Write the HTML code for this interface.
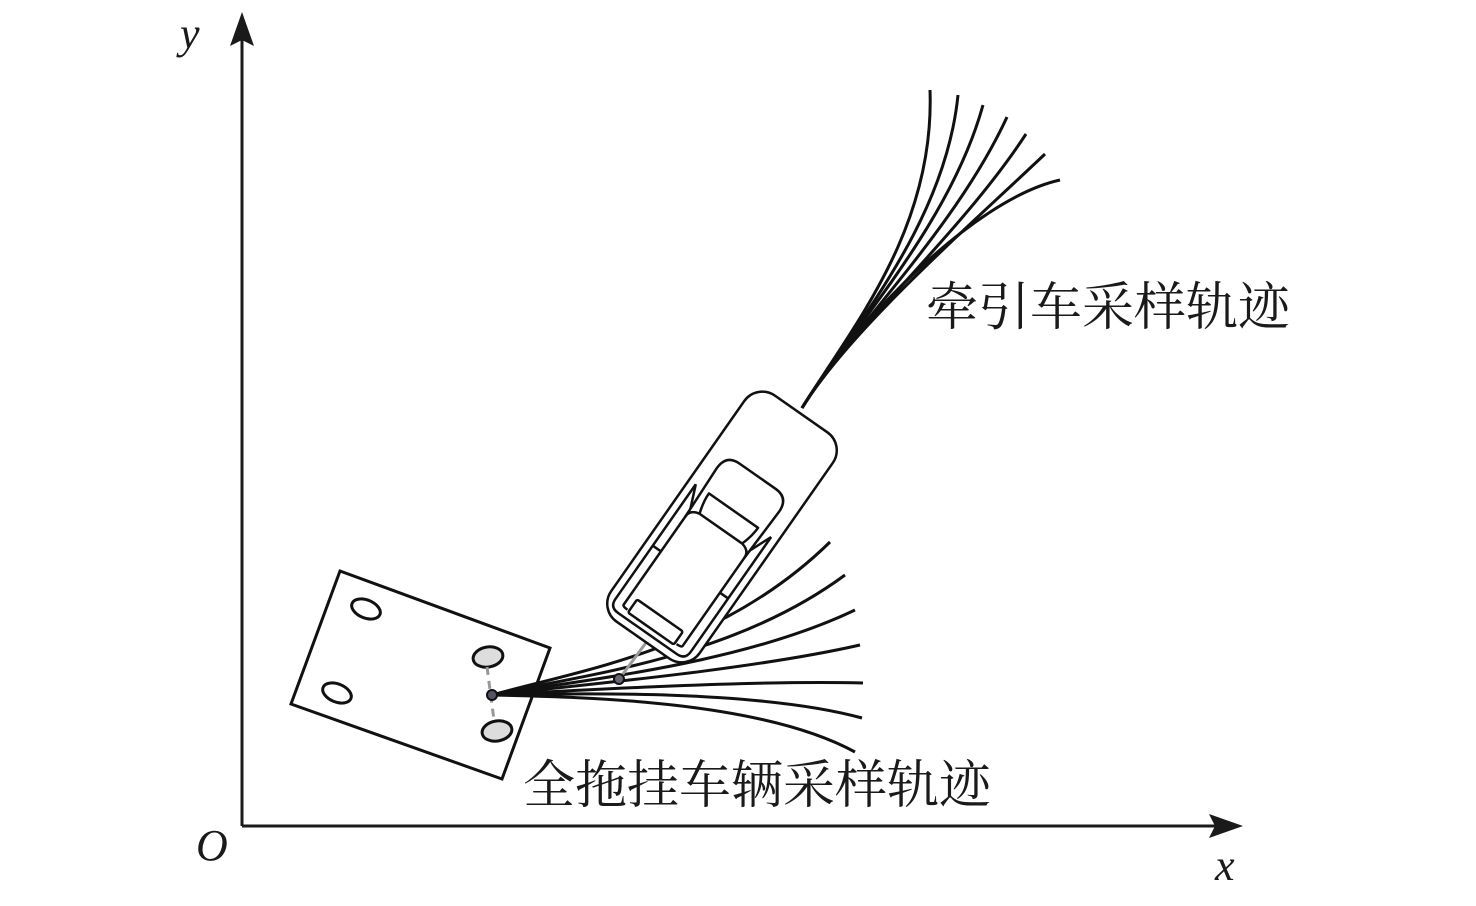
<!DOCTYPE html>
<html><head><meta charset="utf-8"><style>html,body{margin:0;padding:0;background:#fff;}svg{display:block}</style></head>
<body>
<svg width="1476" height="906" viewBox="0 0 1476 906" xmlns="http://www.w3.org/2000/svg">
<g stroke="#1a1a1a" stroke-width="3" fill="none">
<line x1="242" y1="826" x2="242" y2="40"/>
<line x1="242" y1="826" x2="1215" y2="826"/>
</g>
<polygon points="242,12 230,46 242,40 254,46" fill="#1a1a1a"/>
<polygon points="1243,826 1209,814 1215,826 1209,838" fill="#1a1a1a"/>
<g font-family="Liberation Serif, serif" font-style="italic" font-size="44" fill="#1a1a1a">
<text x="180" y="48">y</text>
<text x="196" y="860">O</text>
<text x="1215" y="880">x</text>
</g>
<g stroke="#111" stroke-width="3" fill="none">
<path d="M802,408 C850,330 935,230 930,90"/>
<path d="M802,408 C850,330 945,225 958,95"/>
<path d="M802,408 C850,330 950,225 983,105"/>
<path d="M802,408 C850,330 955,230 1007,117"/>
<path d="M802,408 C850,330 960,235 1026,134"/>
<path d="M802,408 C850,330 965,230 1045,154"/>
<path d="M802,408 C850,330 970,200 1060,180"/>
</g>
<g stroke="#111" stroke-width="3" fill="none">
<path d="M492,695 C580,670 720,650 830,542"/>
<path d="M492,695 C580,675 730,660 845,575"/>
<path d="M492,695 C580,680 740,665 855,610"/>
<path d="M492,695 C580,685 750,670 860,645"/>
<path d="M492,695 C580,690 760,680 863,683"/>
<path d="M492,695 C580,693 760,690 862,718"/>
<path d="M492,695 C580,697 760,700 855,752"/>
</g>
<polygon points="340,571 550,648 502,779 291,704" fill="none" stroke="#111" stroke-width="3"/>
<g stroke="#111" stroke-width="3">
<ellipse cx="366" cy="609" rx="15" ry="9" transform="rotate(22 366 609)" fill="#fff"/>
<ellipse cx="337" cy="693" rx="15" ry="9" transform="rotate(22 337 693)" fill="#fff"/>
<ellipse cx="488" cy="657" rx="15" ry="10" transform="rotate(-10 488 657)" fill="#ddd"/>
<ellipse cx="497" cy="731" rx="15" ry="10" transform="rotate(-10 497 731)" fill="#ddd"/>
</g>
<line x1="487" y1="667" x2="494" y2="720" stroke="#999" stroke-width="3" stroke-dasharray="8,6"/>
<line x1="620" y1="678" x2="648" y2="640" stroke="#999" stroke-width="3"/>
<circle cx="492" cy="695" r="5" fill="#556" stroke="#111" stroke-width="2"/>
<circle cx="619" cy="679" r="5" fill="#667" stroke="#111" stroke-width="2"/>
<!-- car -->
<g transform="translate(722,527) rotate(-55)" stroke="#111" stroke-width="2.5" fill="#fff" stroke-linejoin="round">
<rect x="-138" y="-54" width="276" height="108" rx="22"/>
<!-- inner body contour (rear + sides) -->
<path d="M20,-46 L-120,-46 Q-130,-46 -130,-36 L-130,36 Q-130,46 -120,46 L20,46" fill="none"/>
<path d="M20,-46 L-4,-36 L-120,-36 Q-122,-36 -122,-30" fill="none"/>
<path d="M20,46 L-4,36 L-120,36 Q-122,36 -122,30" fill="none"/>
<!-- roof / windshield -->
<path d="M-12,-36 L45,-38 Q62,-38 62,-22 L62,22 Q62,38 45,38 L-12,36 Q-4,36 -2,26 L-2,-26 Q-4,-36 -12,-36 Z"/>
<path d="M-2,-26 Q10,-30 20,-30 L20,30 Q10,30 -2,26" fill="none"/>
<!-- side window dividers -->
<line x1="-55" y1="-46" x2="-55" y2="-36"/>
<line x1="-55" y1="46" x2="-55" y2="36"/>
<!-- rear window -->
<rect x="-124" y="-28" width="16" height="56" rx="2"/>
</g>
<g font-family="Liberation Serif, 'Noto Serif CJK SC', serif" font-size="52" fill="#1a1a1a">
<text x="926" y="325">牵引车采样轨迹</text>
<text x="523" y="803">全拖挂车辆采样轨迹</text>
</g>
</svg>
</body></html>
